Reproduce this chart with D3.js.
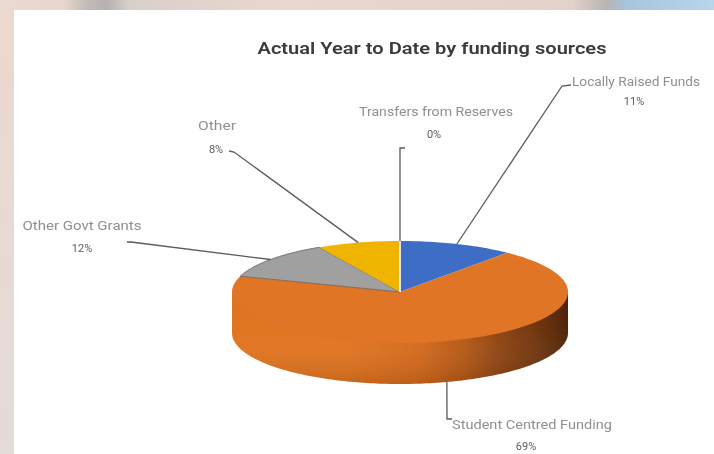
<!DOCTYPE html>
<html>
<head>
<meta charset="utf-8">
<script src="https://cdn.jsdelivr.net/npm/d3@7"></script>
<style>
  html, body { margin: 0; padding: 0; background: #fff; }
  svg { display: block; }
</style>
</head>
<body>
<svg id="chart" width="714" height="454"></svg>
<script>
// Funding sources, in the order the slices run clockwise from 12 o'clock
const categories = ["Locally Raised Funds", "Student Centred Funding", "Other Govt Grants", "Other", "Transfers from Reserves"];
const shares = [11, 69, 12, 8, 0];
const shareLabels = ["11%", "69%", "12%", "8%", "0%"];
const chartTitle = "Actual Year to Date by funding sources";

// Slice fills for the top faces
const topColors = ["#3e6dc5", "#e17428", "#a0a0a0", "#eeb404", "#ffffff"];

// Label layout (text centres and leader-line elbows), per category
const labelLayout = [
  { name: [636, 82], pct: [634, 101], elbow: [[562, 86], [571, 85]], nameLen: 128 },
  { name: [532, 425], pct: [526, 446], elbow: [[447, 419], [452, 419]], nameLen: 160, wall: true },
  { name: [82, 226], pct: [82, 248], elbow: [[131, 242], [127, 242]], nameLen: 119 },
  { name: [217, 126], pct: [216, 149], elbow: [[234, 152], [229, 151]], nameLen: 38 },
  { name: [436, 112], pct: [434, 134], elbow: [[400, 148], [405, 148]], nameLen: 154 }
];

const svg = d3.select("#chart");
const W = 714, H = 454;

// ---- surrounding slide frame ----
const defs = svg.append("defs");
const leftGrad = defs.append("linearGradient").attr("id", "leftStrip")
  .attr("x1", 0).attr("y1", 0).attr("x2", 0).attr("y2", 1);
leftGrad.append("stop").attr("offset", "0%").attr("stop-color", "#ecd8ce");
leftGrad.append("stop").attr("offset", "100%").attr("stop-color", "#e3dbd8");
const topGrad = defs.append("linearGradient").attr("id", "topStrip")
  .attr("x1", 0).attr("y1", 0).attr("x2", 1).attr("y2", 0);
[["0%", "#ecd9cf"], ["9%", "#e8d6cd"], ["12%", "#c4bcb8"], ["15%", "#b4b2b2"], ["18%", "#d9cfca"],
 ["40%", "#ead8cf"], ["80%", "#e2d2cb"], ["85%", "#b8b4b4"], ["88%", "#a6c6de"], ["100%", "#b7d6ec"]]
  .forEach(([o, c]) => topGrad.append("stop").attr("offset", o).attr("stop-color", c));

svg.append("rect").attr("width", W).attr("height", H).attr("fill", "#ffffff");
svg.append("rect").attr("x", 0).attr("y", 0).attr("width", 14).attr("height", H).attr("fill", "url(#leftStrip)");
svg.append("rect").attr("x", 0).attr("y", 0).attr("width", W).attr("height", 10).attr("fill", "url(#topStrip)");

// soft rendering of the chart marks and text
const soft = defs.append("filter").attr("id", "soft").attr("x", "-5%").attr("y", "-5%").attr("width", "110%").attr("height", "110%");
soft.append("feGaussianBlur").attr("stdDeviation", 0.55);
const softText = defs.append("filter").attr("id", "softText").attr("x", "-5%").attr("y", "-20%").attr("width", "110%").attr("height", "140%");
softText.append("feGaussianBlur").attr("stdDeviation", 0.7);

// ---- 3D pie geometry ----
const cx = 400, cy = 292, rx = 168, ry = 51, depth = 41;
const px = a => cx + rx * Math.sin(a);
const py = a => cy - ry * Math.cos(a);

const pie = d3.pie().sort(null).startAngle(0).endAngle(2 * Math.PI).value(d => d);
const arcs = pie(shares);

const sample = (a0, a1) => {
  const n = Math.max(2, Math.ceil(Math.abs(a1 - a0) / 0.02));
  return d3.range(n + 1).map(i => a0 + (a1 - a0) * i / n);
};
const line = d3.line();

// wall gradient: lit on the left, falling into shadow on the right
const wallGrad = defs.append("linearGradient").attr("id", "wall")
  .attr("gradientUnits", "userSpaceOnUse")
  .attr("x1", cx - rx).attr("y1", 0).attr("x2", cx + rx).attr("y2", 0);
[["0%", "#e1731f"], ["35%", "#e1731f"], ["55%", "#d5691b"], ["68%", "#b85916"],
 ["80%", "#8d4311"], ["92%", "#6c320b"], ["100%", "#4d2306"]]
  .forEach(([o, c]) => wallGrad.append("stop").attr("offset", o).attr("stop-color", c));
const wallShade = defs.append("linearGradient").attr("id", "wallShade")
  .attr("x1", 0).attr("y1", 0).attr("x2", 0).attr("y2", 1);
wallShade.append("stop").attr("offset", "0%").attr("stop-color", "#000").attr("stop-opacity", 0);
wallShade.append("stop").attr("offset", "55%").attr("stop-color", "#fff").attr("stop-opacity", 0.03);
wallShade.append("stop").attr("offset", "100%").attr("stop-color", "#000").attr("stop-opacity", 0.12);

const pieG = svg.append("g").attr("filter", "url(#soft)");

// outer walls (front half only); the top edge tucks under the top face
arcs.forEach(d => {
  const a0 = Math.max(d.startAngle, Math.PI / 2);
  const a1 = Math.min(d.endAngle, 3 * Math.PI / 2);
  if (a1 <= a0) return;
  const angles = sample(a0, a1);
  const pts = angles.map(a => [px(a), py(a) - 3])
    .concat(angles.slice().reverse().map(a => [px(a), py(a) + depth]));
  const path = line(pts) + "Z";
  pieG.append("path").attr("d", path).attr("fill", "url(#wall)");
  pieG.append("path").attr("d", path).attr("fill", "url(#wallShade)");
});

// top faces
arcs.forEach((d, i) => {
  if (d.endAngle - d.startAngle <= 0) return;
  const pts = [[cx, cy]].concat(sample(d.startAngle, d.endAngle).map(a => [px(a), py(a)]));
  pieG.append("path").attr("d", line(pts) + "Z")
    .attr("fill", topColors[i])
    .attr("stroke", i === 2 ? "#6e5a4a" : "none")
    .attr("stroke-width", 0.8);
});

// zero-share slice shows as a thin white seam
arcs.forEach(d => {
  if (d.endAngle - d.startAngle > 0) return;
  pieG.append("line")
    .attr("x1", cx).attr("y1", cy)
    .attr("x2", px(d.startAngle)).attr("y2", py(d.startAngle))
    .attr("stroke", "#ffffff").attr("stroke-width", 1.6);
});

// ---- leader lines and labels ----
const labG = svg.append("g").attr("filter", "url(#softText)");
arcs.forEach((d, i) => {
  const L = labelLayout[i];
  const mid = (d.startAngle + d.endAngle) / 2;
  const start = [px(mid), py(mid) + (L.wall ? depth : 0)];
  const pts = [start].concat(L.elbow);
  labG.append("path").attr("d", line(pts))
    .attr("fill", "none").attr("stroke", "#5a5a5a").attr("stroke-width", 1.3);

  labG.append("text")
    .attr("x", L.name[0]).attr("y", L.name[1])
    .attr("text-anchor", "middle").attr("dominant-baseline", "central")
    .attr("font-family", "Liberation Sans Narrow, Roboto, sans-serif")
    .attr("font-size", 12).attr("fill", "#8f8f8f")
    .attr("textLength", L.nameLen).attr("lengthAdjust", "spacingAndGlyphs")
    .text(categories[i]);
  labG.append("text")
    .attr("x", L.pct[0]).attr("y", L.pct[1])
    .attr("text-anchor", "middle").attr("dominant-baseline", "central")
    .attr("font-family", "Liberation Sans Narrow, Roboto, sans-serif")
    .attr("font-size", 11).attr("fill", "#5c5c5c")
    .text(shareLabels[i]);
});

// ---- title ----
svg.append("text")
  .attr("x", 432).attr("y", 48)
  .attr("text-anchor", "middle").attr("dominant-baseline", "central")
  .attr("font-family", "Liberation Sans Narrow, Roboto, sans-serif")
  .attr("font-size", 17).attr("font-weight", 600).attr("fill", "#3a3a3a")
  .attr("textLength", 349).attr("lengthAdjust", "spacingAndGlyphs")
  .attr("filter", "url(#softText)")
  .text(chartTitle);
</script>
</body>
</html>
